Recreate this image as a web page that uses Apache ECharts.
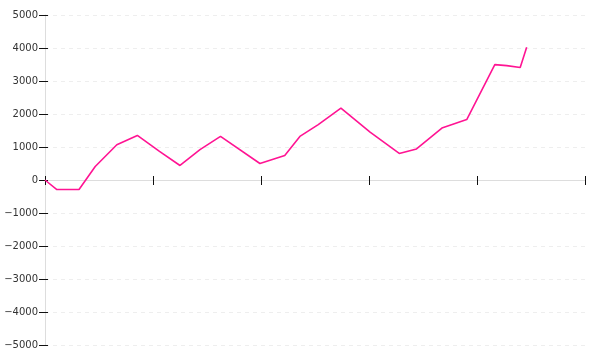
<!DOCTYPE html>
<html>
<head>
<meta charset="utf-8">
<script src="https://cdn.jsdelivr.net/npm/echarts@6/dist/echarts.min.js"></script>
<style>html,body{margin:0;padding:0;background:#fff;}#c{width:600px;height:360px;}</style>
</head>
<body>
<div id="c"></div>
<script>
var xs = [0, 2.2, 6.3, 9.3, 13.3, 17.1, 21.2, 25, 28.7, 32.5, 39.8, 44.4, 47.2, 50.6, 54.8, 60.2, 65.6, 68.8, 73.5, 78.1, 83.3, 85.5, 88, 89.2];
var ys = [0, -290, -290, 410, 1070, 1350, 870, 440, 920, 1320, 500, 745, 1320, 1680, 2180, 1450, 805, 940, 1575, 1830, 3495, 3465, 3410, 4020];
var yTicks = [-5000, 5000, 1000];
var xTicks = [0, 100, 20];

var data = xs.map(function (x, i) { return [x, ys[i]]; });
var labelFont = { color: '#333', fontFamily: 'DejaVu Sans', fontSize: 10 };

var chart = echarts.init(document.getElementById('c'));
chart.setOption({
  animation: false,
  grid: { left: 45, right: 15, top: 15, bottom: 15 },
  xAxis: [{
    type: 'value', min: xTicks[0], max: xTicks[1], interval: xTicks[2],
    axisLine: { onZero: true, lineStyle: { color: '#ddd', width: 1 } },
    axisTick: { show: true, length: 5, lineStyle: { color: '#111', width: 1 } },
    axisLabel: { show: false },
    splitLine: { show: false }
  }, {
    type: 'value', min: xTicks[0], max: xTicks[1], interval: xTicks[2], position: 'bottom',
    axisLine: { show: false, onZero: true },
    axisTick: { show: true, inside: true, length: 4, lineStyle: { color: '#111', width: 1 } },
    axisLabel: { show: false },
    splitLine: { show: false }
  }],
  yAxis: [{
    type: 'value', min: yTicks[0], max: yTicks[1], interval: yTicks[2],
    axisLine: { show: true, lineStyle: { color: '#ddd', width: 1 } },
    axisTick: { show: true, length: 6, lineStyle: { color: '#111', width: 1 } },
    axisLabel: Object.assign({
      margin: 7,
      formatter: function (v) { return String(v).replace('-', '\u2212'); }
    }, labelFont),
    splitLine: { show: true, lineStyle: { color: '#eee', type: [4, 4], width: 1 } }
  }, {
    type: 'value', min: yTicks[0], max: yTicks[1], interval: yTicks[2], position: 'left',
    axisLine: { show: false },
    axisTick: { show: true, inside: true, length: 3, lineStyle: { color: '#111', width: 1 } },
    axisLabel: { show: false },
    splitLine: { show: false }
  }],
  series: [{
    type: 'line', data: data, xAxisIndex: 0, yAxisIndex: 0,
    showSymbol: false, symbol: 'none',
    lineStyle: { color: '#ff1493', width: 1.6 }
  }]
});
</script>
</body>
</html>
